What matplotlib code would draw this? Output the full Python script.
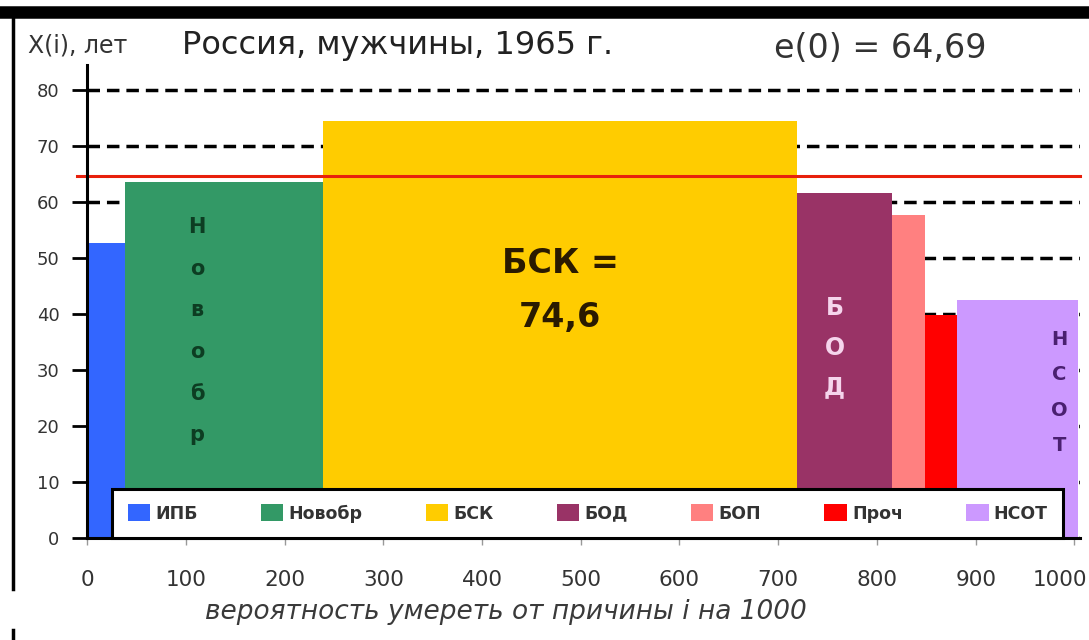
import numpy as np
import matplotlib
matplotlib.use('Agg')
import matplotlib.pyplot as plt
from matplotlib.patches import Patch
from matplotlib.transforms import ScaledTranslation

plt.rcParams['font.family'] = ['DejaVu Sans']

# causes of death, width = probability to die from cause i (per 1000),
# height = mean age at death X(i)
causes = ['ИПБ', 'Новобр', 'БСК', 'БОД', 'БОП', 'Проч', 'НСОТ']
prob_per_1000 = [38, 201, 480, 96, 34, 32, 123]
age_at_death = [52.7, 63.6, 74.6, 61.6, 57.7, 39.8, 42.5]
colors = ['#3366ff', '#339966', '#ffcc00', '#993366', '#ff8080', '#ff0000', '#cc99ff']
e0 = 64.69
xticks = [0, 100, 200, 300, 400, 500, 600, 700, 800, 900, 1000]
yticks = [0, 10, 20, 30, 40, 50, 60, 70, 80]

lefts = np.concatenate([[0], np.cumsum(prob_per_1000)[:-1]])

fig = plt.figure(figsize=(10.89, 6.40), dpi=100)
ax = fig.add_axes([0.080, 0.159, 0.912, 0.739])

ax.bar(lefts, age_at_death, width=prob_per_1000, align='edge',
       color=colors, linewidth=0, zorder=2)

# life expectancy line
ax.axhline(e0, xmin=-0.01, xmax=1.0, color='#e8200c', lw=2.2, zorder=4, clip_on=False)

ax.set_xlim(0, 1006)
ax.set_ylim(0, 84.5)
ax.set_xticks(xticks)
ax.set_yticks(yticks)
ax.yaxis.grid(True, ls=(0, (3.6, 2)), color='black', lw=2.5)
ax.set_axisbelow(True)
for s in ['top', 'right']:
    ax.spines[s].set_visible(False)
ax.spines['left'].set_linewidth(2.2)
ax.spines['bottom'].set_linewidth(2.2)
ax.spines['left'].set_zorder(5)
ax.tick_params(axis='y', direction='out', length=11, width=2, labelsize=13,
               labelcolor='#333333', pad=9)
ax.tick_params(axis='x', direction='out', length=5, width=1, color='#999999',
               labelsize=15.5, labelcolor='#333333', pad=18)
last = ax.get_xticklabels()[-1]
last.set_transform(last.get_transform() + ScaledTranslation(-0.14, 0, fig.dpi_scale_trans))

ax.set_xlabel('вероятность умереть от причины i на 1000', fontsize=19,
              style='italic', color='#3a3a3a', va='center')
ax.xaxis.set_label_coords(0.422, -0.156)

# labels inside bars
c = lefts + np.array(prob_per_1000) / 2
ax.text(c[1] - 27, 37, '\n'.join('Новобр'), ha='center', va='center',
        fontsize=15, fontweight='bold', color='#0d3d22', linespacing=2.35, zorder=3)
ax.text(c[2], 44.2, 'БСК =\n74,6', ha='center', va='center',
        fontsize=24, fontweight='bold', color='#2a1a00', linespacing=1.8, zorder=3)
ax.text(c[3] - 10, 34, '\n'.join('БОД'), ha='center', va='center',
        fontsize=17, fontweight='bold', color='#f5d5ec', linespacing=1.82, zorder=3)
ax.text(985, 26, '\n'.join('НСОТ'), ha='center', va='center',
        fontsize=14, fontweight='bold', color='#4a2070', linespacing=2.1, zorder=3)

handles = [Patch(facecolor=col, edgecolor='none') for col in colors]
leg = ax.legend(handles, causes, loc='lower left', ncol=7, mode='expand',
                bbox_to_anchor=(0.025, 0.0, 0.958, 0.101), borderaxespad=0,
                fancybox=False, framealpha=1, edgecolor='black',
                prop={'size': 12.5, 'weight': 'bold'}, handlelength=1.3,
                handleheight=1.1, handletextpad=0.3, borderpad=0.9)
leg.get_frame().set_linewidth(2.2)
leg.set_zorder(6)
for t in leg.get_texts():
    t.set_color('#333333')

# header texts
fig.text(0.026, 0.929, 'X(i), лет', fontsize=17, color='#333333', va='center')
fig.text(0.167, 0.929, 'Россия, мужчины, 1965 г.', fontsize=23, color='#222222', va='center')
fig.text(0.711, 0.925, 'e(0) = 64,69', fontsize=24, color='#333333', va='center')

# slide frame decoration
fig.add_artist(plt.Line2D([0.005, 1.0], [0.982, 0.982], color='black', lw=9,
                          transform=fig.transFigure))
fig.add_artist(plt.Line2D([0.012, 0.012], [0.975, 0.08], color='black', lw=2.5,
                          transform=fig.transFigure))
fig.add_artist(plt.Line2D([0.012, 0.012], [0.015, 0.0], color='black', lw=2.5,
                          transform=fig.transFigure))

fig.savefig('out.png', dpi=100)
